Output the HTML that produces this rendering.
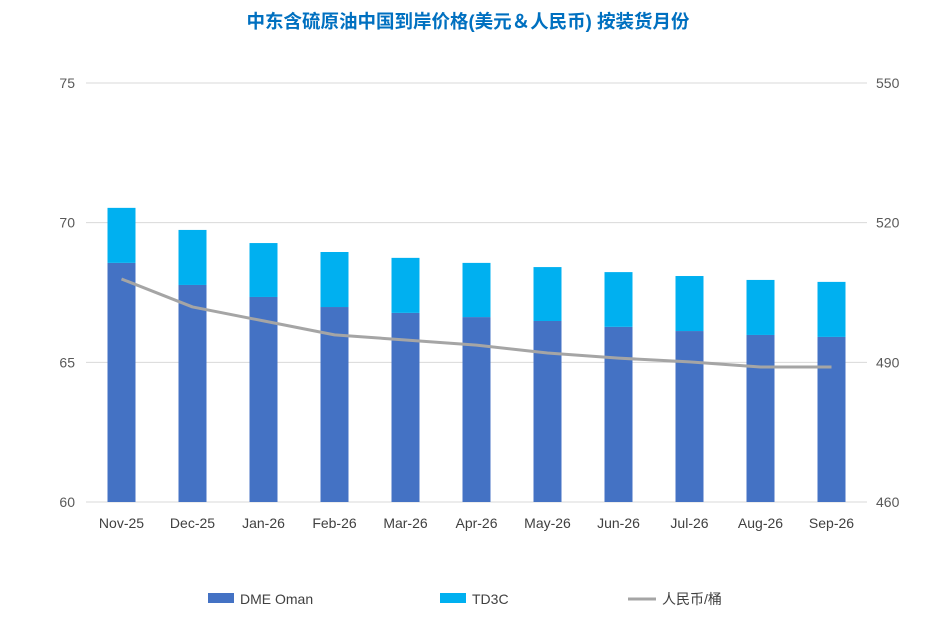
<!DOCTYPE html>
<html><head><meta charset="utf-8"><style>
body{margin:0;background:#fff;width:937px;height:634px;overflow:hidden}
svg text{font-family:"Liberation Sans","Noto Sans CJK SC",sans-serif}
</style></head><body>
<svg id="chart" width="937" height="634" xmlns="http://www.w3.org/2000/svg">
<text x="468" y="28" text-anchor="middle" font-size="18.5" font-weight="bold" fill="#0070C0">中东含硫原油中国到岸价格(美元＆人民币) 按装货月份</text>
<g id="grid"></g><g id="bars"></g><g id="line"></g><g id="axes"></g>
<g>
<rect x="208" y="593" width="26" height="10" fill="#4472C4"/>
<text x="240" y="604" font-size="14" fill="#404040">DME Oman</text>
<rect x="440" y="593" width="26" height="10" fill="#00B0F0"/>
<text x="472" y="604" font-size="14" fill="#404040">TD3C</text>
<line x1="628" y1="599" x2="656" y2="599" stroke="#A5A5A5" stroke-width="3"/>
<text x="662" y="604" font-size="14" fill="#404040">人民币/桶</text>
</g>
</svg>
<script>
const categories=["Nov-25","Dec-25","Jan-26","Feb-26","Mar-26","Apr-26","May-26","Jun-26","Jul-26","Aug-26","Sep-26"];
const dmeOman=[68.56,67.77,67.34,66.98,66.77,66.62,66.48,66.27,66.12,65.98,65.91];
const td3c=[1.97,1.97,1.93,1.97,1.97,1.94,1.93,1.96,1.97,1.97,1.97];
const rmb=[507.9,501.9,498.9,495.9,494.8,493.7,492.0,490.9,490.1,489.0,489.0];
const leftTicks=[60,65,70,75];
const rightTicks=[460,490,520,550];
const NS="http://www.w3.org/2000/svg";
const X0=86,BAND=71,YT=83,YB=502;
const yL=v=>YB-(v-60)/15*(YB-YT);
const yR=v=>YB-(v-460)/90*(YB-YT);
const xC=i=>X0+BAND*(i+0.5);
function mk(tag,attrs,parent,txt){const e=document.createElementNS(NS,tag);for(const k in attrs)e.setAttribute(k,attrs[k]);if(txt!==undefined)e.textContent=txt;document.getElementById(parent).appendChild(e);return e;}
leftTicks.forEach((t,i)=>{
 const g=mk("line",{x1:X0,x2:X0+BAND*11,y1:yL(t),y2:yL(t),stroke:"#D9D9D9","stroke-width":1},"grid");
 
 
 const l=mk("text",{x:75,y:yL(t)+5,"text-anchor":"end","font-size":14,fill:"#595959"},"axes",t);
 
 
});
rightTicks.forEach(t=>{
 const l=mk("text",{x:876,y:yR(t)+5,"font-size":14,fill:"#595959"},"axes",t);
 
 
});
categories.forEach((c,i)=>{
 const w=28,x=xC(i)-w/2;
 const b1=mk("rect",{x:x,y:yL(dmeOman[i]),width:w,height:yL(60)-yL(dmeOman[i]),fill:"#4472C4"},"bars");
 
 
 const top=dmeOman[i]+td3c[i];
 const b2=mk("rect",{x:x,y:yL(top),width:w,height:yL(dmeOman[i])-yL(top),fill:"#00B0F0"},"bars");
 
 
 const l=mk("text",{x:xC(i),y:528,"text-anchor":"middle","font-size":14,fill:"#404040"},"axes",c);
 
 
});
const p=mk("polyline",{points:rmb.map((v,i)=>xC(i)+","+yR(v)).join(" "),fill:"none",stroke:"#A5A5A5","stroke-width":3,"stroke-linejoin":"round"},"line");


</script>
</body></html>
